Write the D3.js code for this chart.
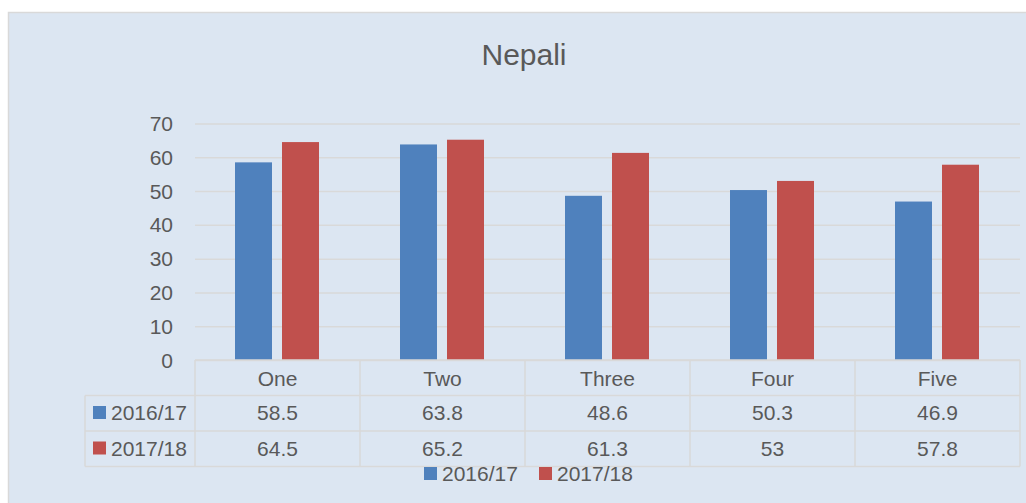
<!DOCTYPE html>
<html>
<head>
<meta charset="utf-8">
<script src="https://cdn.jsdelivr.net/npm/d3@7"></script>
<style>
  body { margin: 0; background: #ffffff; }
  svg { display: block; font-family: "Liberation Sans", Arial, sans-serif; }
</style>
</head>
<body>
<svg width="1026" height="503"></svg>
<script>
// chart data
let grades = ["One", "Two", "Three", "Four", "Five"];
let seriesNames = ["2016/17", "2017/18"];
let values1617 = [58.5, 63.8, 48.6, 50.3, 46.9];
let values1718 = [64.5, 65.2, 61.3, 53, 57.8];
let yTicks = [0, 10, 20, 30, 40, 50, 60, 70];
let colors = ["#4F81BD", "#C0504D"];

var drawChart = function() {
  let svg = d3.select("svg");
  let textColor = "#595959";
  let lineColor = "#D9D9D9";
  let fontSize = "21px";

  let allValues = [values1617, values1718];

  let margin = {
    top:    123.5,
    right:  6,
    bottom: 143, // table under the plot
    left:   195
  };

  let width = 1026;
  let height = 503;
  let plotWidth = width - margin.left - margin.right;
  let plotHeight = height - margin.top - margin.bottom;

  // chart area background and border
  svg.append("rect")
    .attr("x", 8.5)
    .attr("y", 12.5)
    .attr("width", 1030)
    .attr("height", 500)
    .attr("fill", "#DCE6F2")
    .attr("stroke", lineColor)
    .attr("stroke-width", 1.5);

  svg.append("text")
    .attr("x", 524)
    .attr("y", 65)
    .attr("text-anchor", "middle")
    .style("font-size", "30px")
    .attr("fill", textColor)
    .text("Nepali");

  let plot = svg.append("g")
    .attr("id", "plot")
    .attr("transform", "translate(" + margin.left + "," + margin.top + ")");

  let yScale = d3.scaleLinear()
    .domain([0, 70])
    .range([plotHeight, 0]);

  let xScale = d3.scaleBand()
    .domain(grades)
    .range([0, plotWidth]);

  // two bars inside each category
  let innerScale = d3.scaleBand()
    .domain(seriesNames)
    .range([40, 124])
    .paddingInner(0.213);

  // gridlines
  let gridlines = d3.axisLeft(yScale)
    .tickValues(yTicks)
    .tickFormat("")
    .tickSize(-plotWidth);

  let grid = plot.append("g").call(gridlines);
  grid.select(".domain").remove();
  grid.selectAll("line")
    .attr("stroke", lineColor)
    .attr("stroke-width", 1.5);

  // y tick labels
  plot.selectAll("text.ytick")
    .data(yTicks)
    .enter()
    .append("text")
    .attr("class", "ytick")
    .attr("x", -22)
    .attr("y", function(d) { return yScale(d) + 7.5; })
    .attr("text-anchor", "end")
    .style("font-size", fontSize)
    .attr("fill", textColor)
    .text(function(d) { return d; });

  // bars
  seriesNames.forEach(function(name, s) {
    plot.selectAll("rect.s" + s)
      .data(allValues[s])
      .enter()
      .append("rect")
      .attr("class", "s" + s)
      .attr("x", function(d, i) { return xScale(grades[i]) + innerScale(name); })
      .attr("y", function(d) { return yScale(d); })
      .attr("width", innerScale.bandwidth())
      .attr("height", function(d) { return plotHeight - yScale(d); })
      .attr("fill", colors[s]);
  });

  // data table under the axis
  let rowH = 35.5;
  let table = plot.append("g")
    .attr("transform", "translate(0," + plotHeight + ")");
  let labelLeft = -110;

  let hLines = [
    [0, plotWidth, 0],
    [labelLeft, plotWidth, rowH],
    [labelLeft, plotWidth, rowH * 2],
    [labelLeft, plotWidth, rowH * 3]
  ];
  table.selectAll("line.h")
    .data(hLines)
    .enter()
    .append("line")
    .attr("class", "h")
    .attr("x1", function(d) { return d[0]; })
    .attr("x2", function(d) { return d[1]; })
    .attr("y1", function(d) { return d[2]; })
    .attr("y2", function(d) { return d[2]; })
    .attr("stroke", lineColor)
    .attr("stroke-width", 1.5);

  let vPos = grades.map(function(g) { return xScale(g); }).concat([plotWidth]);
  table.selectAll("line.v")
    .data(vPos)
    .enter()
    .append("line")
    .attr("class", "v")
    .attr("x1", function(d) { return d; })
    .attr("x2", function(d) { return d; })
    .attr("y1", 0)
    .attr("y2", rowH * 3)
    .attr("stroke", lineColor)
    .attr("stroke-width", 1.5);

  table.append("line")
    .attr("x1", labelLeft)
    .attr("x2", labelLeft)
    .attr("y1", rowH)
    .attr("y2", rowH * 3)
    .attr("stroke", lineColor)
    .attr("stroke-width", 1.5);

  // category header row
  table.selectAll("text.cat")
    .data(grades)
    .enter()
    .append("text")
    .attr("class", "cat")
    .attr("x", function(d) { return xScale(d) + xScale.bandwidth() / 2; })
    .attr("y", 25.5)
    .attr("text-anchor", "middle")
    .style("font-size", fontSize)
    .attr("fill", textColor)
    .text(function(d) { return d; });

  seriesNames.forEach(function(name, s) {
    let rowY = rowH * (s + 1);

    table.append("rect")
      .attr("x", labelLeft + 8)
      .attr("y", rowY + 10.5)
      .attr("width", 13)
      .attr("height", 13)
      .attr("fill", colors[s]);

    table.append("text")
      .attr("x", labelLeft + 26)
      .attr("y", rowY + 24.5)
      .style("font-size", fontSize)
      .attr("fill", textColor)
      .text(name);

    table.selectAll("text.v" + s)
      .data(allValues[s])
      .enter()
      .append("text")
      .attr("class", "v" + s)
      .attr("x", function(d, i) { return xScale(grades[i]) + xScale.bandwidth() / 2; })
      .attr("y", rowY + 24.5)
      .attr("text-anchor", "middle")
      .style("font-size", fontSize)
      .attr("fill", textColor)
      .text(function(d) { return d; });
  });

  // legend at the bottom
  let legend = svg.append("g")
    .attr("transform", "translate(424,467)");
  let legendX = [0, 115];

  seriesNames.forEach(function(name, s) {
    legend.append("rect")
      .attr("x", legendX[s])
      .attr("y", 0)
      .attr("width", 13)
      .attr("height", 13)
      .attr("fill", colors[s]);

    legend.append("text")
      .attr("x", legendX[s] + 18)
      .attr("y", 14)
      .style("font-size", fontSize)
      .attr("fill", textColor)
      .text(name);
  });
};

drawChart();
</script>
</body>
</html>
